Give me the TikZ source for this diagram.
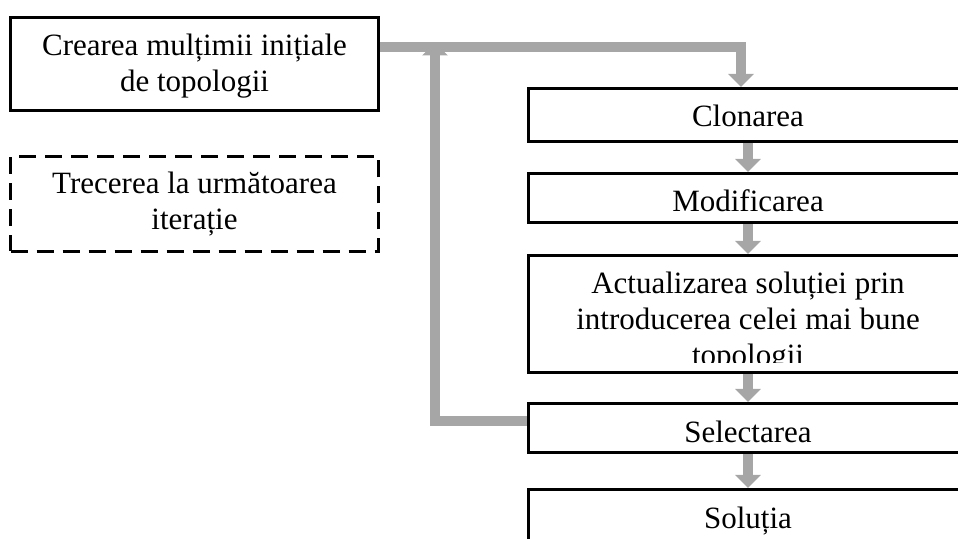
\documentclass[tikz,border=0pt]{standalone}
\usepackage{fontspec}
\setmainfont{Liberation Serif}
\usetikzlibrary{arrows.meta,positioning}
\definecolor{flowgray}{HTML}{A6A6A6}

\begin{document}
\begin{tikzpicture}[x=1pt,y=1pt,>={Triangle[width=25pt,length=13pt]},
  stage node/.style={draw,line width=3pt,inner sep=0pt,align=center,
    minimum width=440pt,font=\fontsize{31}{36}\selectfont},
  flow/.style={->,draw=flowgray,line width=10pt}]

  \useasboundingbox (0,0) rectangle (958,538);
  \clip (0,0) rectangle (958,538);

  \node[stage node,minimum width=368pt,text height=74.5pt,text depth=18.5pt] (start) at (194.5,474) {Crearea mulțimii inițiale\\de topologii};
  \node[stage node,minimum width=368pt,text height=73.5pt,text depth=21.5pt,
    dash pattern=on 17pt off 9pt] (next) [below=43pt of start] {Trecerea la următoarea\\iterație};

  \node[stage node,text height=38.5pt,text depth=14.5pt] (clone) at (748,423) {Clonarea};
  \node[stage node,text height=38.5pt,text depth=10.5pt] (modify) [below=29pt of clone] {Modificarea};
  \node[stage node,text height=110.5pt,text depth=6.5pt] (update) [below=30pt of modify] {Actualizarea soluției prin\\introducerea celei mai bune\\topologii};
  \node[stage node,text height=39.5pt,text depth=9.5pt] (select) [below=28pt of update] {Selectarea};
  \node[stage node,text height=38.5pt,text depth=14.5pt] (solution) [below=34pt of select] {Soluția};

  % text cut at the lower edge
  \fill[white] ([shift={(3pt,3pt)}]modify.south west) rectangle ([shift={(-3pt,12pt)}]modify.south east);
  \fill[white] ([shift={(3pt,3pt)}]update.south west) rectangle ([shift={(-3pt,11pt)}]update.south east);

  \coordinate (back) at ([xshift=55pt,yshift=21.5pt]start.east);
  \draw[flow] ([yshift=17pt]start.east) -| ([xshift=-7pt]clone.north);
  \draw[flow] (clone) -- (modify);
  \draw[flow] (modify) -- (update);
  \draw[flow] (update) -- (select);
  \draw[flow] (select) -- (solution);
  \draw[flow] ([yshift=7pt]select.west) -| (back);
\end{tikzpicture}
\end{document}
